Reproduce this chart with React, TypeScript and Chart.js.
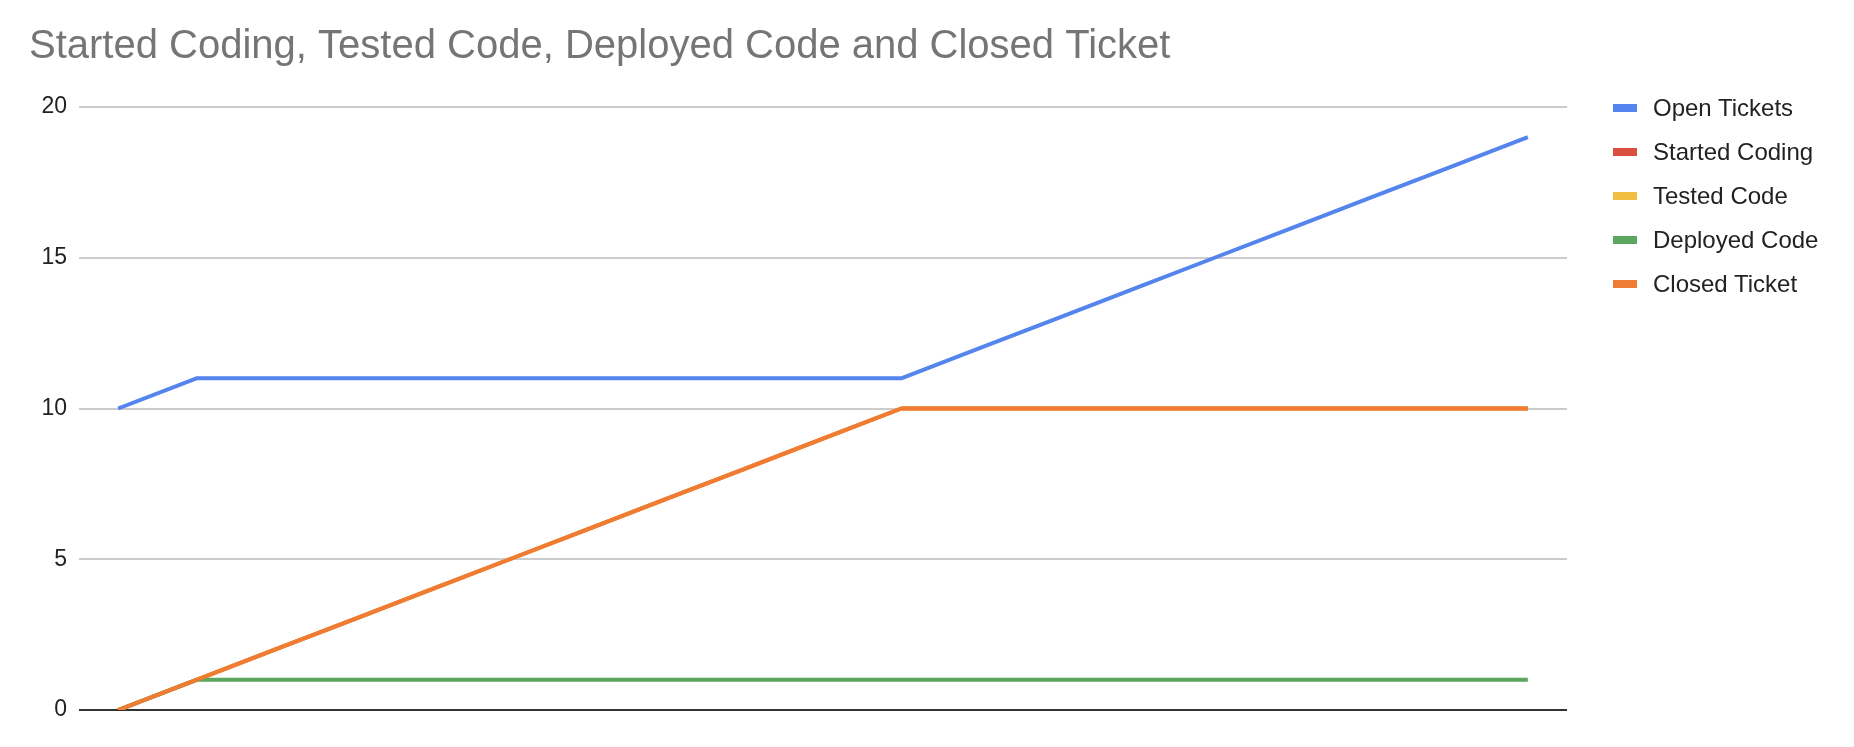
import React, { useEffect, useRef } from "react";
import { Chart, registerables } from "chart.js";

Chart.register(...registerables);

// x categories (no labels shown on the axis)
const categories = ["1", "2", "3", "4", "5", "6", "7", "8", "9", "10", "11", "12", "13", "14", "15", "16", "17", "18", "19"];

const openTickets = [10, 11, 11, 11, 11, 11, 11, 11, 11, 11, 11, 12, 13, 14, 15, 16, 17, 18, 19];
const startedCoding = [0, 1, 2, 3, 4, 5, 6, 7, 8, 9, 10, 10, 10, 10, 10, 10, 10, 10, 10];
const testedCode = [0, 1, 2, 3, 4, 5, 6, 7, 8, 9, 10, 10, 10, 10, 10, 10, 10, 10, 10];
const deployedCode = [0, 1, 1, 1, 1, 1, 1, 1, 1, 1, 1, 1, 1, 1, 1, 1, 1, 1, 1];
const closedTicket = [0, 1, 2, 3, 4, 5, 6, 7, 8, 9, 10, 10, 10, 10, 10, 10, 10, 10, 10];

const seriesNames = ["Open Tickets", "Started Coding", "Tested Code", "Deployed Code", "Closed Ticket"];
const seriesColors = ["#5484ED", "#DA4F3F", "#F2BE42", "#5AA65E", "#F07B33"];
const seriesValues = [openTickets, startedCoding, testedCode, deployedCode, closedTicket];

const yTicks = [0, 5, 10, 15, 20];

const FONT = "'Liberation Sans', Arial, Helvetica, sans-serif";

const App: React.FC = () => {
  const canvasRef = useRef<HTMLCanvasElement>(null);
  const chartRef = useRef<Chart | null>(null);

  useEffect(() => {
    document.body.style.margin = "0";
    if (!canvasRef.current) return;
    const ctx = canvasRef.current.getContext("2d");
    if (!ctx) return;

    chartRef.current = new Chart(ctx, {
      type: "line",
      data: {
        labels: categories,
        datasets: seriesNames.map((name, i) => ({
          label: name,
          data: seriesValues[i],
          borderColor: seriesColors[i],
          backgroundColor: seriesColors[i],
          borderWidth: 4,
          pointRadius: 0,
          pointHoverRadius: 0,
          tension: 0,
          fill: false,
          borderJoinStyle: "round" as const,
          order: seriesNames.length - i, // later series drawn on top
        })),
      },
      options: {
        responsive: true,
        maintainAspectRatio: false,
        animation: false,
        layout: {
          padding: { left: 29, right: 287, top: 0, bottom: 29 },
        },
        plugins: {
          legend: { display: false },
          tooltip: { enabled: false },
          title: {
            display: true,
            text: "Started Coding, Tested Code, Deployed Code and Closed Ticket",
            align: "start",
            color: "#757575",
            font: { family: FONT, size: 40, weight: "normal" },
            padding: { top: 23, bottom: 36 },
          },
        },
        scales: {
          x: {
            offset: true,
            grid: { display: false },
            border: { display: false },
            ticks: { display: false },
          },
          y: {
            min: 0,
            max: 20,
            afterFit: (scale: any) => {
              scale.width = 50;
            },
            afterBuildTicks: (scale: any) => {
              scale.ticks = yTicks.map((v) => ({ value: v }));
            },
            border: { display: false },
            grid: {
              drawTicks: false,
              lineWidth: 2,
              color: (c: any) => (c.tick && c.tick.value === 0 ? "#333333" : "#CCCCCC"),
            },
            ticks: {
              padding: 12,
              color: "#222222",
              font: { family: FONT, size: 23 },
            },
          },
        },
      },
    });

    return () => {
      if (chartRef.current) {
        chartRef.current.destroy();
        chartRef.current = null;
      }
    };
  }, []);

  return (
    <div
      style={{
        position: "fixed",
        left: 0,
        top: 0,
        width: 1854,
        height: 747,
        background: "#fff",
        fontFamily: FONT,
      }}
    >
      <div style={{ position: "absolute", left: 0, top: 0, width: 1854, height: 747 }}>
        <canvas ref={canvasRef}></canvas>
      </div>
      {/* legend on the right */}
      <div style={{ position: "absolute", left: 1613, top: 86 }}>
        {seriesNames.map((name, i) => (
          <div key={name} style={{ display: "flex", alignItems: "center", height: 44 }}>
            <span
              style={{
                display: "inline-block",
                width: 24,
                height: 8,
                background: seriesColors[i],
                marginRight: 16,
              }}
            ></span>
            <span style={{ fontSize: 24, color: "#222222", lineHeight: "44px" }}>{name}</span>
          </div>
        ))}
      </div>
    </div>
  );
};

export default App;
